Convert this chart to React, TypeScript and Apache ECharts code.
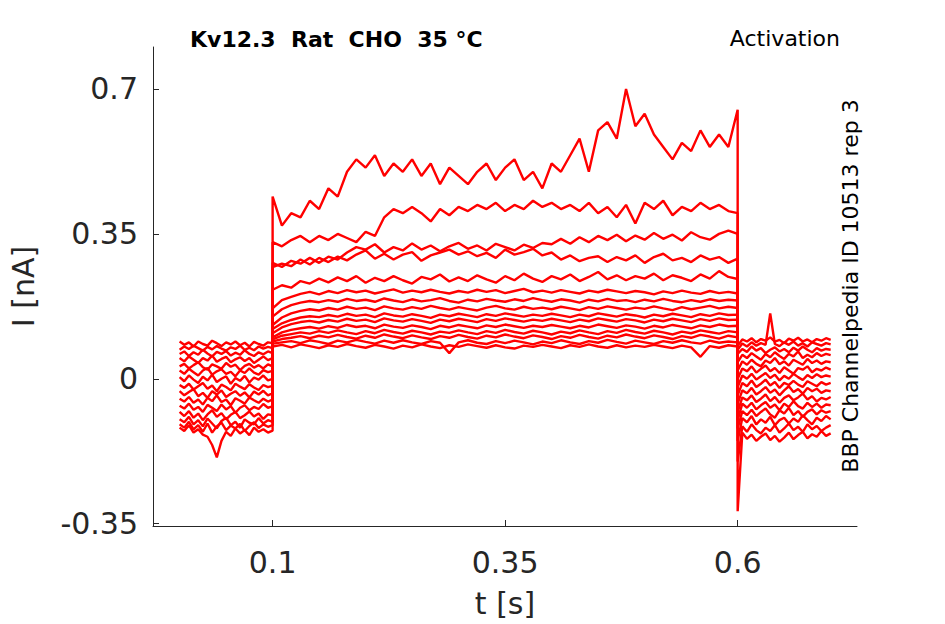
import React, { useEffect, useRef } from 'react';
import * as echarts from 'echarts';

// sample times (s): holding, step, tail
const preT = [0, 0.005, 0.01, 0.015, 0.02, 0.025, 0.03, 0.035, 0.04, 0.045, 0.05, 0.055, 0.06, 0.065, 0.07, 0.075, 0.08, 0.085, 0.09, 0.095, 0.1];
const stepT = [
  0.1, 0.11, 0.12, 0.13, 0.14, 0.15, 0.16, 0.17, 0.18, 0.19,
  0.2, 0.21, 0.22, 0.23, 0.24, 0.25, 0.26, 0.27, 0.28, 0.29,
  0.3, 0.31, 0.32, 0.33, 0.34, 0.35, 0.36, 0.37, 0.38, 0.39,
  0.4, 0.41, 0.42, 0.43, 0.44, 0.45, 0.46, 0.47, 0.48, 0.49,
  0.5, 0.51, 0.52, 0.53, 0.54, 0.55, 0.56, 0.57, 0.58, 0.59,
  0.6,
];
const postT = [0.6, 0.605, 0.61, 0.615, 0.62, 0.625, 0.63, 0.635, 0.64, 0.645, 0.65, 0.655, 0.66, 0.665, 0.67, 0.675, 0.68, 0.685, 0.69, 0.695, 0.7];

// current (nA) before the step, one row per sweep
const preI = [
  [0.09, 0.082, 0.088, 0.078, 0.09, 0.084, 0.08, 0.092, 0.086, 0.079, 0.088, 0.083, 0.09, 0.081, 0.087, 0.078, 0.089, 0.084, 0.08, 0.088, 0.086],
  [0.07, 0.078, 0.072, 0.08, 0.074, 0.068, 0.077, 0.071, 0.079, 0.073, 0.068, 0.076, 0.072, 0.08, 0.07, 0.075, 0.069, 0.078, 0.073, 0.077, 0.074],
  [0.06, 0.066, 0.055, 0.064, 0.058, 0.07, 0.061, 0.054, 0.065, 0.06, 0.067, 0.056, 0.063, 0.058, 0.069, 0.06, 0.055, 0.064, 0.059, 0.066, 0.062],
  [0.05, 0.042, 0.054, 0.046, 0.038, 0.05, 0.044, 0.056, 0.041, 0.048, 0.053, 0.04, 0.047, 0.052, 0.043, 0.05, 0.038, 0.046, 0.054, 0.045, 0.05],
  [0.03, 0.036, 0.025, 0.033, 0.04, 0.028, 0.022, 0.035, 0.03, 0.024, 0.038, 0.029, 0.034, 0.021, 0.031, 0.036, 0.027, 0.033, 0.025, 0.035, 0.03],
  [0.02, 0.012, 0.024, 0.016, 0.008, 0.02, 0.026, 0.01, 0.018, 0.023, 0.012, 0.017, 0.006, 0.02, 0.014, 0.025, 0.015, 0.01, 0.021, 0.016, 0.019],
  [0.004, -0.006, 0.008, -0.002, -0.01, 0.005, -0.004, 0.01, -0.008, 0.0, 0.006, -0.012, 0.002, -0.005, 0.007, -0.009, 0.003, -0.002, 0.008, -0.004, 0.0],
  [-0.015, -0.022, -0.012, -0.026, -0.018, -0.01, -0.024, -0.016, -0.03, -0.014, -0.02, -0.028, -0.012, -0.019, -0.025, -0.013, -0.021, -0.027, -0.015, -0.02, -0.017],
  [-0.03, -0.04, -0.032, -0.025, -0.042, -0.034, -0.046, -0.03, -0.038, -0.028, -0.044, -0.036, -0.03, -0.041, -0.033, -0.045, -0.031, -0.038, -0.029, -0.04, -0.035],
  [-0.048, -0.055, -0.044, -0.058, -0.05, -0.062, -0.046, -0.054, -0.04, -0.056, -0.05, -0.064, -0.047, -0.053, -0.06, -0.045, -0.052, -0.058, -0.048, -0.055, -0.05],
  [-0.065, -0.072, -0.06, -0.075, -0.068, -0.08, -0.063, -0.07, -0.078, -0.062, -0.074, -0.066, -0.082, -0.07, -0.064, -0.076, -0.068, -0.073, -0.061, -0.07, -0.066],
  [-0.08, -0.09, -0.078, -0.094, -0.084, -0.1, -0.086, -0.076, -0.092, -0.083, -0.098, -0.087, -0.08, -0.095, -0.088, -0.079, -0.091, -0.084, -0.097, -0.086, -0.088],
  [-0.098, -0.105, -0.092, -0.11, -0.1, -0.115, -0.096, -0.108, -0.12, -0.102, -0.094, -0.112, -0.104, -0.118, -0.098, -0.106, -0.11, -0.095, -0.108, -0.1, -0.104],
  [-0.11, -0.118, -0.104, -0.122, -0.112, -0.128, -0.108, -0.13, -0.115, -0.106, -0.124, -0.113, -0.12, -0.109, -0.126, -0.114, -0.105, -0.119, -0.11, -0.116, -0.112],
  [-0.118, -0.126, -0.112, -0.13, -0.122, -0.135, -0.14, -0.16, -0.19, -0.15, -0.128, -0.138, -0.12, -0.132, -0.124, -0.136, -0.118, -0.128, -0.122, -0.13, -0.125],
];

// current (nA) during the step
const stepI = [
  [0.44, 0.37, 0.4, 0.39, 0.43, 0.41, 0.46, 0.44, 0.5, 0.53,
   0.51, 0.54, 0.49, 0.52, 0.5, 0.53, 0.49, 0.52, 0.47, 0.51,
   0.49, 0.47, 0.5, 0.52, 0.48, 0.51, 0.53, 0.48, 0.5, 0.46,
   0.52, 0.5, 0.54, 0.58, 0.5, 0.6, 0.62, 0.58, 0.7, 0.61,
   0.64, 0.59, 0.56, 0.53, 0.57, 0.55, 0.6, 0.56, 0.59, 0.56,
   0.65],
  [0.33, 0.32, 0.335, 0.345, 0.33, 0.345, 0.335, 0.35, 0.34, 0.33,
   0.355, 0.345, 0.39, 0.41, 0.4, 0.415, 0.4, 0.38, 0.41, 0.395,
   0.415, 0.405, 0.42, 0.41, 0.425, 0.405, 0.42, 0.41, 0.43, 0.415,
   0.425, 0.41, 0.42, 0.405, 0.425, 0.4, 0.415, 0.39, 0.42, 0.375,
   0.425, 0.41, 0.43, 0.395, 0.415, 0.405, 0.425, 0.41, 0.42, 0.405,
   0.4],
  [0.28, 0.27, 0.285, 0.278, 0.292, 0.28, 0.295, 0.288, 0.305, 0.318,
   0.312, 0.325, 0.305, 0.318, 0.31, 0.327, 0.312, 0.322, 0.308, 0.32,
   0.328, 0.314, 0.322, 0.31, 0.326, 0.318, 0.31, 0.324, 0.316, 0.328,
   0.325, 0.338, 0.326, 0.342, 0.33, 0.345, 0.335, 0.348, 0.332, 0.346,
   0.336, 0.352, 0.338, 0.348, 0.334, 0.354, 0.342, 0.336, 0.35, 0.358,
   0.35],
  [0.27, 0.278, 0.272, 0.288, 0.276, 0.292, 0.282, 0.295, 0.286, 0.3,
   0.31, 0.29, 0.302, 0.288, 0.3, 0.306, 0.285, 0.298, 0.305, 0.312,
   0.3, 0.308, 0.296, 0.304, 0.292, 0.312, 0.3, 0.306, 0.314, 0.298,
   0.305, 0.288, 0.298, 0.284, 0.292, 0.296, 0.282, 0.294, 0.286, 0.298,
   0.28, 0.294, 0.302, 0.286, 0.292, 0.282, 0.298, 0.288, 0.294, 0.28,
   0.29],
  [0.215, 0.226, 0.22, 0.236, 0.23, 0.242, 0.233, 0.245, 0.236, 0.248,
   0.232, 0.244, 0.236, 0.248, 0.238, 0.23, 0.246, 0.24, 0.252, 0.235,
   0.245, 0.236, 0.25, 0.24, 0.232, 0.248, 0.238, 0.254, 0.242, 0.234,
   0.248, 0.24, 0.252, 0.236, 0.246, 0.258, 0.24, 0.25, 0.238, 0.248,
   0.242, 0.254, 0.238, 0.25, 0.244, 0.236, 0.252, 0.242, 0.26, 0.246,
   0.241],
  [0.17, 0.19, 0.198, 0.205, 0.21, 0.204, 0.212, 0.207, 0.214, 0.209,
   0.213, 0.206, 0.211, 0.216, 0.208, 0.213, 0.209, 0.215, 0.21, 0.206,
   0.212, 0.208, 0.215, 0.21, 0.214, 0.207, 0.212, 0.217, 0.209, 0.213,
   0.208, 0.214, 0.21, 0.206, 0.213, 0.209, 0.215, 0.211, 0.207, 0.212,
   0.209, 0.204, 0.211, 0.207, 0.213, 0.208, 0.205, 0.212, 0.207, 0.21,
   0.206],
  [0.15, 0.168, 0.178, 0.184, 0.188, 0.185, 0.19, 0.186, 0.193, 0.188,
   0.191, 0.186, 0.194, 0.189, 0.185, 0.192, 0.187, 0.19, 0.195, 0.188,
   0.184, 0.191, 0.187, 0.193, 0.189, 0.186, 0.192, 0.188, 0.195, 0.19,
   0.186, 0.192, 0.189, 0.184, 0.191, 0.187, 0.193, 0.188, 0.19, 0.185,
   0.191, 0.187, 0.193, 0.188, 0.185, 0.19, 0.186, 0.192, 0.188, 0.191,
   0.189],
  [0.13, 0.148, 0.158, 0.164, 0.168, 0.165, 0.171, 0.167, 0.174, 0.169,
   0.172, 0.166, 0.175, 0.17, 0.167, 0.173, 0.169, 0.176, 0.171, 0.167,
   0.173, 0.169, 0.165, 0.172, 0.176, 0.17, 0.167, 0.174, 0.169, 0.172,
   0.168, 0.174, 0.17, 0.166, 0.173, 0.169, 0.175, 0.171, 0.167, 0.172,
   0.169, 0.175, 0.17, 0.166, 0.173, 0.168, 0.172, 0.176, 0.17, 0.174,
   0.171],
  [0.12, 0.134, 0.142, 0.148, 0.151, 0.149, 0.154, 0.15, 0.157, 0.152,
   0.155, 0.149, 0.158, 0.153, 0.15, 0.156, 0.152, 0.147, 0.155, 0.151,
   0.157, 0.153, 0.149, 0.156, 0.152, 0.158, 0.154, 0.15, 0.155, 0.152,
   0.157, 0.153, 0.149, 0.155, 0.151, 0.158, 0.154, 0.15, 0.156, 0.153,
   0.148, 0.155, 0.151, 0.157, 0.153, 0.149, 0.156, 0.152, 0.158, 0.154,
   0.155],
  [0.11, 0.124, 0.132, 0.137, 0.14, 0.136, 0.142, 0.138, 0.145, 0.14,
   0.143, 0.137, 0.146, 0.141, 0.138, 0.144, 0.14, 0.135, 0.143, 0.139,
   0.145, 0.141, 0.137, 0.144, 0.14, 0.146, 0.142, 0.138, 0.143, 0.14,
   0.145, 0.141, 0.137, 0.143, 0.139, 0.146, 0.142, 0.138, 0.144, 0.141,
   0.136, 0.143, 0.139, 0.145, 0.141, 0.137, 0.144, 0.14, 0.146, 0.142,
   0.143],
  [0.1, 0.112, 0.118, 0.122, 0.125, 0.121, 0.127, 0.123, 0.13, 0.125,
   0.128, 0.122, 0.131, 0.126, 0.123, 0.129, 0.125, 0.12, 0.128, 0.124,
   0.13, 0.126, 0.122, 0.129, 0.125, 0.131, 0.127, 0.123, 0.128, 0.125,
   0.13, 0.126, 0.122, 0.128, 0.124, 0.131, 0.127, 0.123, 0.129, 0.126,
   0.121, 0.128, 0.124, 0.13, 0.126, 0.122, 0.129, 0.125, 0.131, 0.127,
   0.128],
  [0.095, 0.104, 0.108, 0.112, 0.109, 0.115, 0.111, 0.117, 0.112, 0.108,
   0.115, 0.11, 0.118, 0.113, 0.109, 0.116, 0.112, 0.107, 0.114, 0.111,
   0.117, 0.112, 0.108, 0.115, 0.111, 0.118, 0.113, 0.109, 0.116, 0.112,
   0.107, 0.114, 0.11, 0.117, 0.112, 0.108, 0.115, 0.111, 0.118, 0.113,
   0.109, 0.116, 0.112, 0.107, 0.114, 0.11, 0.117, 0.113, 0.109, 0.115,
   0.112],
  [0.09, 0.096, 0.099, 0.103, 0.098, 0.104, 0.1, 0.106, 0.101, 0.097,
   0.104, 0.099, 0.107, 0.102, 0.098, 0.105, 0.1, 0.096, 0.103, 0.099,
   0.106, 0.101, 0.097, 0.104, 0.1, 0.107, 0.102, 0.098, 0.105, 0.101,
   0.096, 0.103, 0.099, 0.106, 0.101, 0.097, 0.104, 0.1, 0.107, 0.102,
   0.098, 0.105, 0.101, 0.096, 0.103, 0.099, 0.106, 0.102, 0.097, 0.104,
   0.1],
  [0.085, 0.088, 0.091, 0.086, 0.093, 0.089, 0.084, 0.092, 0.088, 0.094,
   0.089, 0.085, 0.092, 0.087, 0.093, 0.088, 0.084, 0.091, 0.087, 0.062,
   0.088, 0.093, 0.087, 0.084, 0.091, 0.086, 0.092, 0.088, 0.083, 0.09,
   0.086, 0.093, 0.088, 0.084, 0.091, 0.087, 0.094, 0.089, 0.085, 0.092,
   0.088, 0.084, 0.091, 0.087, 0.093, 0.088, 0.085, 0.092, 0.087, 0.09,
   0.088],
  [0.078, 0.082, 0.076, 0.083, 0.079, 0.074, 0.081, 0.077, 0.084, 0.079,
   0.075, 0.082, 0.078, 0.073, 0.08, 0.076, 0.083, 0.078, 0.074, 0.081,
   0.077, 0.083, 0.079, 0.075, 0.081, 0.076, 0.073, 0.08, 0.077, 0.082,
   0.078, 0.074, 0.081, 0.077, 0.083, 0.078, 0.075, 0.081, 0.076, 0.08,
   0.077, 0.082, 0.078, 0.074, 0.08, 0.076, 0.053, 0.079, 0.075, 0.081,
   0.078],
];

// current (nA) after the step
const postI = [
  [-0.32, -0.13, -0.145, -0.135, -0.15, -0.14, -0.132, -0.148, -0.138, -0.152, -0.142, -0.13, -0.146, -0.136, -0.128, -0.144, -0.134, -0.14, -0.126, -0.138, -0.132],
  [-0.2, -0.115, -0.128, -0.11, -0.124, -0.132, -0.118, -0.126, -0.112, -0.13, -0.12, -0.108, -0.124, -0.116, -0.128, -0.11, -0.122, -0.114, -0.126, -0.118, -0.112],
  [-0.15, -0.095, -0.105, -0.09, -0.11, -0.098, -0.106, -0.092, -0.112, -0.1, -0.094, -0.108, -0.096, -0.104, -0.088, -0.1, -0.11, -0.094, -0.102, -0.09, -0.098],
  [-0.12, -0.078, -0.088, -0.075, -0.09, -0.08, -0.072, -0.086, -0.094, -0.076, -0.084, -0.07, -0.088, -0.078, -0.092, -0.08, -0.074, -0.086, -0.076, -0.082, -0.078],
  [-0.1, -0.06, -0.07, -0.058, -0.074, -0.064, -0.056, -0.07, -0.062, -0.076, -0.06, -0.068, -0.054, -0.066, -0.072, -0.058, -0.068, -0.06, -0.07, -0.062, -0.064],
  [-0.08, -0.045, -0.052, -0.04, -0.056, -0.048, -0.038, -0.054, -0.044, -0.058, -0.046, -0.04, -0.052, -0.045, -0.036, -0.05, -0.042, -0.055, -0.046, -0.05, -0.044],
  [-0.06, -0.028, -0.035, -0.022, -0.038, -0.03, -0.02, -0.034, -0.026, -0.04, -0.028, -0.018, -0.032, -0.025, -0.036, -0.022, -0.03, -0.024, -0.034, -0.028, -0.03],
  [-0.04, -0.01, -0.018, -0.004, -0.02, -0.012, -0.002, -0.016, -0.008, -0.022, -0.01, -0.015, -0.005, -0.014, -0.02, -0.006, -0.012, -0.018, -0.008, -0.014, -0.01],
  [-0.02, 0.008, 0.0, 0.012, -0.002, 0.006, 0.014, 0.002, 0.01, -0.004, 0.007, 0.0, 0.012, 0.004, -0.003, 0.009, 0.002, 0.011, 0.004, 0.008, 0.005],
  [0.0, 0.025, 0.018, 0.03, 0.015, 0.024, 0.032, 0.018, 0.026, 0.014, 0.028, 0.02, 0.012, 0.026, 0.022, 0.03, 0.016, 0.024, 0.02, 0.027, 0.022],
  [0.02, 0.042, 0.034, 0.046, 0.036, 0.03, 0.044, 0.038, 0.05, 0.035, 0.042, 0.032, 0.046, 0.04, 0.034, 0.048, 0.038, 0.044, 0.036, 0.042, 0.04],
  [0.04, 0.058, 0.05, 0.062, 0.054, 0.046, 0.06, 0.052, 0.064, 0.055, 0.048, 0.06, 0.054, 0.066, 0.05, 0.058, 0.052, 0.062, 0.055, 0.06, 0.057],
  [0.06, 0.072, 0.065, 0.078, 0.068, 0.074, 0.062, 0.07, 0.076, 0.066, 0.072, 0.064, 0.075, 0.068, 0.078, 0.07, 0.064, 0.074, 0.068, 0.072, 0.07],
  [0.07, 0.085, 0.078, 0.088, 0.08, 0.086, 0.082, 0.158, 0.084, 0.079, 0.088, 0.082, 0.09, 0.08, 0.086, 0.078, 0.088, 0.084, 0.08, 0.086, 0.083],
  [0.08, 0.095, 0.09, 0.098, 0.088, 0.096, 0.092, 0.1, 0.09, 0.094, 0.086, 0.097, 0.092, 0.099, 0.09, 0.095, 0.088, 0.096, 0.092, 0.098, 0.094],
];

const xTicks = [0.1, 0.35, 0.6];
const yTicks = [-0.35, 0, 0.35, 0.7];

const axisColor = '#262626';
const font = 'DejaVu Sans';

const sweep = (k: number) => [
  ...preT.map((t, j) => [t, preI[k][j]]),
  ...stepT.map((t, j) => [t, stepI[k][j]]),
  ...postT.map((t, j) => [t, postI[k][j]]),
];

const App: React.FC = () => {
  const chartRef = useRef<HTMLDivElement | null>(null);

  useEffect(() => {
    if (!chartRef.current) return;
    const chart = echarts.init(chartRef.current, undefined, { renderer: 'svg' });

    const series = preI.map((_, k) => ({
      type: 'line',
      data: sweep(k),
      showSymbol: false,
      symbol: 'none',
      lineStyle: { color: '#ff0000', width: 2.4 },
      silent: true,
    }));

    chart.setOption({
      animation: false,
      backgroundColor: '#ffffff',
      grid: { left: 152, right: 88, top: 47, bottom: 98 },
      xAxis: {
        type: 'value',
        min: -0.0286,
        max: 0.7283,
        name: 't [s]',
        nameLocation: 'middle',
        nameGap: 62,
        nameTextStyle: { fontSize: 30, color: axisColor, fontFamily: font },
        axisLine: { show: true, onZero: false, lineStyle: { color: axisColor, width: 1 } },
        axisTick: { show: true, inside: true, length: 6, customValues: xTicks, lineStyle: { color: axisColor } },
        axisLabel: { customValues: xTicks, fontSize: 30, color: axisColor, fontFamily: font, margin: 21 },
        splitLine: { show: false },
      },
      yAxis: {
        type: 'value',
        min: -0.3556,
        max: 0.8014,
        name: 'I [nA]',
        nameLocation: 'middle',
        nameGap: 115,
        nameTextStyle: { fontSize: 30, color: axisColor, fontFamily: font },
        axisLine: { show: true, onZero: false, lineStyle: { color: axisColor, width: 1 } },
        axisTick: { show: true, inside: true, length: 6, customValues: yTicks, lineStyle: { color: axisColor } },
        axisLabel: { customValues: yTicks, fontSize: 30, color: axisColor, fontFamily: font, margin: 15 },
        splitLine: { show: false },
      },
      graphic: [
        {
          type: 'text',
          left: 190,
          top: 28,
          style: { text: 'Kv12.3  Rat  CHO  35 °C', fontSize: 22, fontWeight: 'bold', fontFamily: font, fill: '#000' },
        },
        {
          type: 'text',
          right: 105,
          top: 27,
          style: { text: 'Activation', fontSize: 22, fontFamily: font, fill: '#000' },
        },
        {
          type: 'text',
          x: 850,
          y: 286,
          rotation: Math.PI / 2,
          style: {
            text: 'BBP Channelpedia ID 10513 rep 3',
            fontSize: 22,
            fontFamily: font,
            fill: '#000',
            align: 'center',
            verticalAlign: 'middle',
          },
        },
      ],
      series,
    });

    return () => {
      chart.dispose();
    };
  }, []);

  return <div ref={chartRef} style={{ position: 'fixed', left: 0, top: 0, width: 945, height: 624, backgroundColor: 'white' }} />;
};

export default App;
